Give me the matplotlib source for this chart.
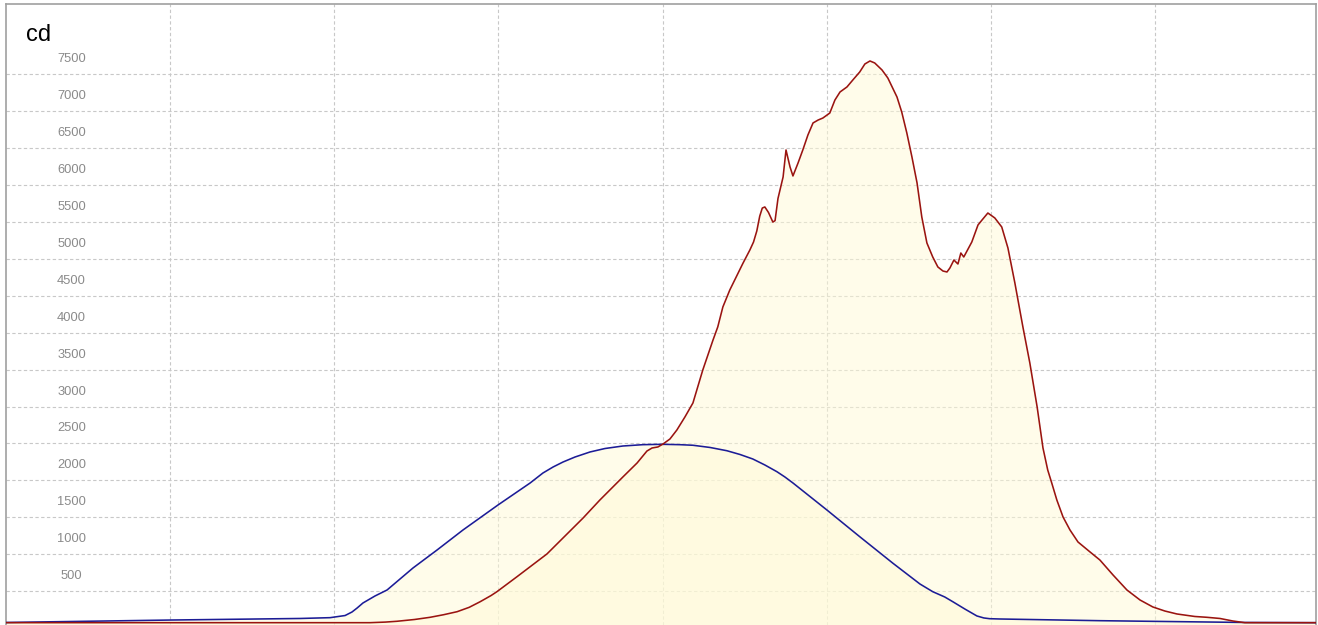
import matplotlib
matplotlib.use("Agg")
import matplotlib.pyplot as plt
import matplotlib.transforms as mtransforms

# Angles (degrees) and luminous intensity (cd)
blue_angle = [-179.9, -134.7, -99.3, -91.1, -87.0, -85.1, -83.7, -82.1, -78.8, -75.5,
              -68.4, -61.8, -54.7, -45.1, -36.3, -32.8, -30.0, -27.3, -24.0, -19.9,
              -15.8, -10.9, -5.4, 0.0, 4.7, 8.3, 13.0, 17.6, 21.2, 24.7, 28.0, 31.3,
              33.5, 35.7, 45.0, 54.0, 63.1, 70.5, 74.0, 77.3, 79.5, 82.8, 86.1, 88.0,
              89.6, 92.4, 119.8, 159.5, 179.0]
blue_cd = [75, 108, 129, 140, 169, 217, 271, 339, 434, 515,
           813, 1057, 1328, 1667, 1965, 2100, 2182, 2249, 2317, 2385,
           2432, 2466, 2484, 2489, 2484, 2476, 2446, 2402, 2351, 2290, 2209, 2118,
           2046, 1965, 1599, 1237, 877, 596, 492, 420, 356, 257, 163, 136,
           126, 122, 99, 75, 72]

red_angle = [-179.9, -80.2, -76.0, -72.8, -68.0, -63.7, -60.0, -56.3, -53.0, -50.0,
             -47.0, -45.4, -39.9, -31.7, -21.8, -17.2, -10.9, -7.0, -4.3, -2.9, -1.3,
             0.1, 2.0, 3.9, 6.1, 8.3, 11.0, 13.8, 15.1, 16.5, 18.4, 22.0, 23.9, 24.9,
             25.8, 26.6, 27.3, 28.0, 29.0, 30.2, 30.8, 31.6, 33.0, 33.8, 34.9, 35.7,
             37.1, 38.4, 39.8,
             41.2, 42.6, 43.9, 45.8, 47.2, 48.6, 50.5, 52.1, 54.0, 55.4, 56.8, 58.1,
             60.1, 61.7, 64.2, 65.5, 66.9, 68.3, 69.7, 71.0, 72.4, 74.0, 75.4, 76.8,
             77.9, 78.7, 79.8, 80.9, 81.7, 82.5, 84.7, 86.4, 87.5, 89.1, 91.0, 92.9,
             94.6, 96.5, 98.7, 100.6, 102.6, 104.2, 105.5, 106.6, 108.0, 109.7, 111.6,
             113.8, 117.1, 119.8, 123.4, 127.2, 130.8, 134.3, 137.6, 140.9, 145.8,
             149.1, 152.7, 156.2, 159.5, 179.0]
red_cd = [72, 72, 80, 91, 115, 145, 180, 221, 280, 356,
          440, 492, 695, 1003, 1490, 1734, 2046, 2236, 2398, 2439, 2453,
          2493, 2561, 2683, 2859, 3049, 3496, 3902, 4079, 4350, 4580, 4942, 5122, 5230,
          5380, 5580, 5690, 5705, 5630, 5500, 5520, 5820, 6111, 6477, 6247, 6125,
          6301, 6477, 6680,
          6843, 6883, 6910, 6978, 7154, 7263, 7331, 7425, 7534, 7642, 7683, 7656,
          7561, 7452, 7195, 6992, 6707, 6382, 6030, 5569, 5217, 5027, 4892, 4837,
          4824, 4878, 4986, 4932, 5081, 5027, 5230, 5461, 5528, 5623, 5556, 5434,
          5149, 4675, 4079, 3591, 2995, 2439, 2141, 1965, 1734, 1504, 1328,
          1165, 1030, 921, 718, 515, 379, 285, 230, 190, 156,
          145, 129, 95, 72, 72]

y_ticks = [500, 1000, 1500, 2000, 2500, 3000, 3500, 4000, 4500, 5000, 5500, 6000, 6500, 7000, 7500]
x_grid = [-135, -90, -45, 0, 45, 90, 135]
unit_label = "cd"

W, H = 1318, 625
fig = plt.figure(figsize=(W / 100, H / 100), dpi=100)
fig.patch.set_facecolor("white")
left_px, right_px, top_px, bottom_px = 6, 1316, 4, 625
ax = fig.add_axes([left_px / W, 1 - bottom_px / H, (right_px - left_px) / W, (bottom_px - top_px) / H])
ax.set_xlim(-179.9, 179.0)
ax.set_ylim(40.6, 8455)

grid_kw = dict(color="#c8c8c8", lw=0.8, linestyle=(0, (3, 2.2)), zorder=1)
for y in y_ticks:
    ax.axhline(y, **grid_kw)
for x in x_grid:
    ax.axvline(x, **grid_kw)

fill_color = "#fffad7"
ax.fill_between(blue_angle, blue_cd, 0, color=fill_color, alpha=0.5, lw=0, zorder=2)
ax.fill_between(red_angle, red_cd, 0, color=fill_color, alpha=0.5, lw=0, zorder=2)
ax.plot(blue_angle, blue_cd, color="#1c1c96", lw=1.15, zorder=4, solid_joinstyle="round")
ax.plot(red_angle, red_cd, color="#9a1410", lw=1.15, zorder=5, solid_joinstyle="round")

ax.set_xticks([])
ax.set_yticks([])
for s in ["left", "right", "top"]:
    ax.spines[s].set_color("#a0a0a0")
    ax.spines[s].set_linewidth(1.2)
ax.spines["bottom"].set_visible(False)

lab_tr = mtransforms.offset_copy(ax.get_yaxis_transform(), fig=fig, x=0, y=15, units="dots")
for y in y_ticks:
    ax.text((71.5 - left_px) / (right_px - left_px), y, str(y), transform=lab_tr,
            ha="center", va="center", fontsize=9.3, color="#8a8a8a",
            family=["Liberation Sans", "DejaVu Sans"])

fig.text(26 / W, 1 - 41 / H, unit_label, ha="left", va="baseline", fontsize=17,
         color="black", family=["Liberation Sans", "DejaVu Sans"])

fig.savefig("out.png", dpi=100)
